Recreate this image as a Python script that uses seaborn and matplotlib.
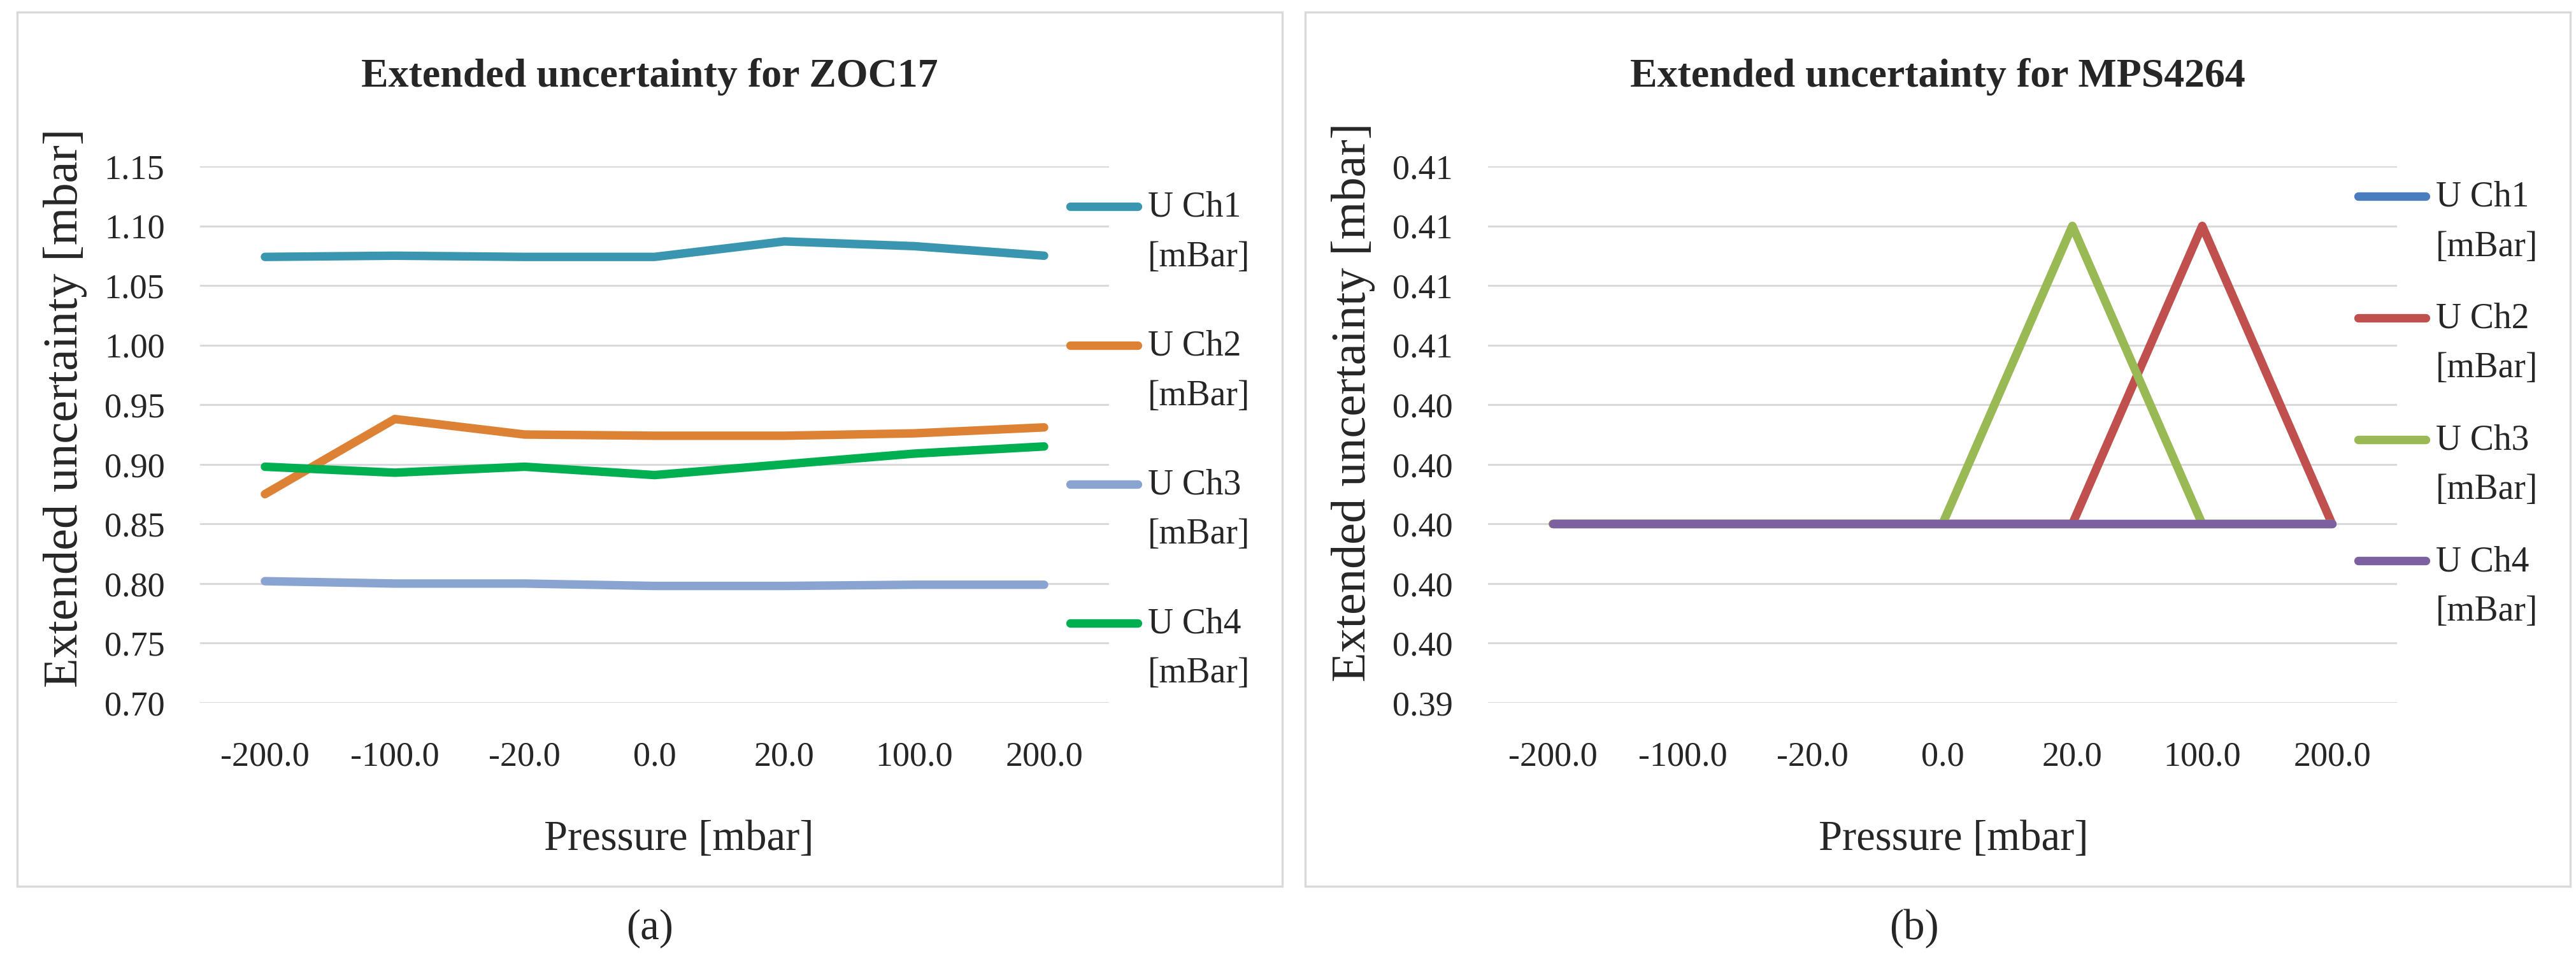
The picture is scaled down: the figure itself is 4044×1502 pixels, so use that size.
# =====================================================
# EXTENDED UNCERTAINTY - ZOC17 / MPS4264
# =====================================================

import numpy as np
import pandas as pd
import seaborn as sns
import matplotlib.pyplot as plt

from matplotlib.lines import Line2D
from matplotlib.patches import Rectangle
from matplotlib.legend_handler import HandlerLine2D


# =====================================================
# DATA
# =====================================================

pressure_labels = ["-200.0", "-100.0", "-20.0", "0.0", "20.0", "100.0", "200.0"]

channel_names = ["U Ch1\n[mBar]", "U Ch2\n[mBar]", "U Ch3\n[mBar]", "U Ch4\n[mBar]"]

zoc_ch1 = [1.074, 1.075, 1.074, 1.074, 1.087, 1.083, 1.075]
zoc_ch2 = [0.875, 0.938, 0.925, 0.924, 0.924, 0.926, 0.931]
zoc_ch3 = [0.802, 0.800, 0.800, 0.798, 0.798, 0.799, 0.799]
zoc_ch4 = [0.898, 0.893, 0.898, 0.891, 0.900, 0.909, 0.915]

mps_ch1 = [0.400, 0.400, 0.400, 0.400, 0.400, 0.400, 0.400]
mps_ch2 = [0.400, 0.400, 0.400, 0.400, 0.400, 0.410, 0.400]
mps_ch3 = [0.400, 0.400, 0.400, 0.400, 0.410, 0.400, 0.400]
mps_ch4 = [0.400, 0.400, 0.400, 0.400, 0.400, 0.400, 0.400]

zoc_ticks = [0.70, 0.75, 0.80, 0.85, 0.90, 0.95, 1.00, 1.05, 1.10, 1.15]
mps_ticks = [0.394, 0.396, 0.398, 0.400, 0.402, 0.404, 0.406, 0.408, 0.410, 0.412]

zoc_colors = ["#3A96B0", "#DD8134", "#8AA4D2", "#00AF50"]
mps_colors = ["#4A7DBF", "#C0504D", "#98B954", "#7D60A0"]


# =====================================================
# STYLE
# =====================================================

sns.set_style("white")

plt.rcParams["font.family"] = ["Liberation Serif", "DejaVu Serif"]

W, H, DPI = 4044, 1502, 200

GRID = "#D9D9D9"


def fx(px):
    return px / W


def fy(py):
    return 1 - py / H


# =====================================================
# LEGEND HANDLE ON FIRST TEXT LINE
# =====================================================

class TopLineHandler(HandlerLine2D):

    def __init__(self, shift, **kw):
        super().__init__(**kw)
        self.shift = shift

    def create_artists(self, legend, orig_handle, xdescent, ydescent,
                       width, height, fontsize, trans):
        artists = super().create_artists(
            legend, orig_handle, xdescent, ydescent,
            width, height, fontsize, trans
        )
        for a in artists:
            a.set_ydata(np.asarray(a.get_ydata()) + self.shift)
        return artists


# =====================================================
# ONE PANEL
# =====================================================

def draw_panel(fig, left_px, series, colors, ticks, title,
               legend_top, labelspacing, ylabel_y, xlabel_x, caption,
               caption_x):

    # panel frame
    fig.add_artist(
        Rectangle(
            (fx(left_px - 287), fy(1391)),
            1986 / W, 1372 / H,
            transform=fig.transFigure,
            fill=False,
            edgecolor=GRID,
            linewidth=1.2
        )
    )

    ax = fig.add_axes([fx(left_px), fy(1103), 1427 / W, 842 / H])

    rows = []
    for name, values in zip(channel_names, series):
        for i, v in enumerate(values):
            rows.append({"pos": i, "pressure": pressure_labels[i],
                         "channel": name, "value": v})
    df = pd.DataFrame(rows)

    sns.lineplot(
        data=df,
        x="pos",
        y="value",
        hue="channel",
        hue_order=channel_names,
        palette=colors,
        estimator=None,
        sort=False,
        linewidth=4.8,
        solid_capstyle="round",
        legend=False,
        ax=ax
    )

    ax.set_xlim(-0.5, len(pressure_labels) - 0.5)
    ax.set_xticks(range(len(pressure_labels)))
    ax.set_xticklabels(pressure_labels)

    ax.set_ylim(ticks[0], ticks[-1])
    ax.set_yticks(ticks)
    ax.set_yticklabels([f"{t:.2f}" for t in ticks])

    ax.grid(axis="y", color=GRID, linewidth=1.1)
    ax.grid(axis="x", visible=False)
    ax.set_axisbelow(True)
    sns.despine(ax=ax, left=True, bottom=True)

    ax.tick_params(axis="both", length=0, labelsize=19.5)
    ax.tick_params(axis="x", pad=21.5)
    ax.tick_params(axis="y", pad=20)

    ax.set_xlabel("Pressure [mbar]", fontsize=24)
    ax.xaxis.set_label_coords(xlabel_x, -0.255)
    ax.xaxis.label.set_va("center")

    ax.set_ylabel("Extended uncertainty [mbar]", fontsize=27.5)
    ax.yaxis.set_label_coords(-0.148, ylabel_y)
    ax.yaxis.label.set_va("center")

    fig.text(fx(left_px - 294 + 1000), fy(120), title,
             ha="center", va="center", fontsize=23, fontweight="bold")

    fig.text(fx(caption_x), fy(1457), caption,
             ha="center", va="center", fontsize=24)

    leg = fig.legend(
        ax.lines[:len(channel_names)],
        channel_names,
        loc="upper left",
        bbox_to_anchor=(fx(left_px + 1366), fy(legend_top)),
        bbox_transform=fig.transFigure,
        frameon=False,
        fontsize=20,
        handlelength=1.9,
        handletextpad=0.3,
        labelspacing=labelspacing,
        borderpad=0,
        borderaxespad=0,
        handler_map={Line2D: TopLineHandler(14.8)}
    )
    for t in leg.get_texts():
        t.set_linespacing(1.64)

    return ax


# =====================================================
# FIGURE
# =====================================================

fig = plt.figure(figsize=(W / DPI, H / DPI), dpi=DPI)

draw_panel(
    fig, 314,
    [zoc_ch1, zoc_ch2, zoc_ch3, zoc_ch4],
    zoc_colors, zoc_ticks,
    "Extended uncertainty for ZOC17",
    legend_top=300, labelspacing=1.59, ylabel_y=0.55, xlabel_x=0.527,
    caption="(a)", caption_x=1020
)

draw_panel(
    fig, 2336,
    [mps_ch1, mps_ch2, mps_ch3, mps_ch4],
    mps_colors, mps_ticks,
    "Extended uncertainty for MPS4264",
    legend_top=284, labelspacing=1.10, ylabel_y=0.56, xlabel_x=0.512,
    caption="(b)", caption_x=3005
)

# =====================================================
# SAVE
# =====================================================

fig.savefig("out.png", dpi=DPI, facecolor="white")

plt.close(fig)
